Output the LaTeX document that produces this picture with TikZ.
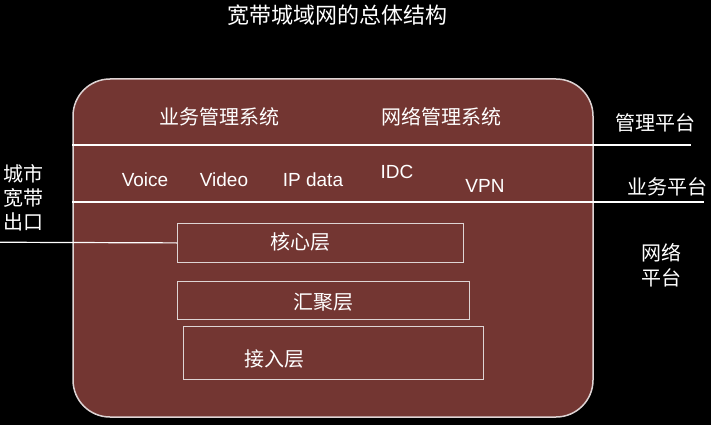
\documentclass[tikz,border=0pt]{standalone}
\usepackage{fontspec}
\setmainfont{Noto Sans CJK SC}
\newfontfamily\latin{Liberation Sans}
\usepackage{tikz}

\definecolor{platbrown}{RGB}{115,54,50}
\definecolor{edgegray}{RGB}{222,212,212}

\tikzset{
  cn/.style={text=white, font=\fontsize{20}{25}\selectfont, inner sep=0pt, align=center},
  svc/.style={text=white, font=\latin\fontsize{19}{22}\selectfont, inner sep=0pt},
  layer/.style={draw=edgegray, line width=1.3pt, anchor=north west, inner sep=0pt},
  rule/.style={draw=white, line width=1.2pt}
}

\begin{document}
\begin{tikzpicture}[x=1pt,y=-1pt]
      \fill[black] (0,0) rectangle (711,425);
      \useasboundingbox (0,0) rectangle (711,425);

      \node [text=white, font=\fontsize{22}{26}\selectfont, inner sep=0pt] (title) at (337,15) {宽带城域网的总体结构};

      \node [draw=edgegray, fill=platbrown, line width=1.5pt, rounded corners=37pt,
             minimum width=520pt, minimum height=338pt, inner sep=0pt] (platform) at (333,248) {};

      % management
      \node [cn] (bizmgmt) at (219,117) {业务管理系统};
      \node [cn] (netmgmt) at (441,117) {网络管理系统};
      \node [cn] (mgmtlabel) at (655,123) {管理平台};

      % services
      \node [svc] (voice) at (145,180) {Voice};
      \node [svc] (video) at (224,180) {Video};
      \node [svc] (ipdata) at (313,180) {IP data};
      \node [svc] (idc) at (397,172) {IDC};
      \node [svc] (vpn) at (485,186) {VPN};
      \node [cn] (svclabel) at (667,187) {业务平台};

      % network layers
      \node [layer, minimum width=286pt, minimum height=38.5pt] (core) at (177,223) {};
      \node [layer, minimum width=292pt, minimum height=38pt] (agg) at (177,281) {};
      \node [layer, minimum width=300pt, minimum height=53pt] (access) at (183,326) {};
      \node [cn] (coretext) at (300,242) {核心层};
      \node [cn] (aggtext) at (323,302) {汇聚层};
      \node [cn] (accesstext) at (274,359) {接入层};
      \node [cn] (netlabel) at (661,265) {网络\\平台};

      \node [cn, font=\fontsize{20}{24}\selectfont] (exitlabel) at (23,198) {城市\\宽带\\出口};

      \coordinate (mgmtend) at (691,145);
      \coordinate (svcend) at (704,202);
      \coordinate (exitend) at (0,242.25);

      \draw[rule] (platform.west |- mgmtend) -- (mgmtend);
      \draw[rule] (platform.west |- svcend) -- (svcend);
      \draw[rule] (exitend) -- (core.west);
    \end{tikzpicture}
\end{document}
